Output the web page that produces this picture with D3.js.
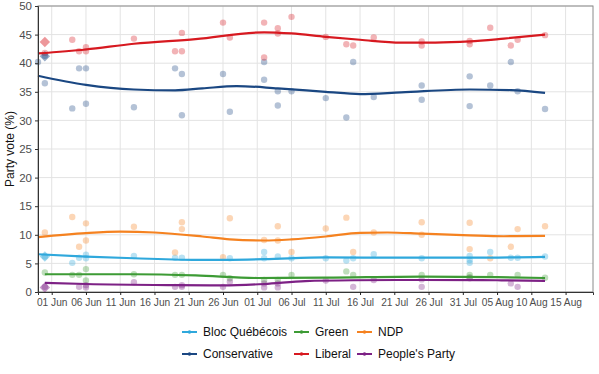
<!DOCTYPE html>
<html>
<head>
<meta charset="utf-8">
<script src="https://cdn.jsdelivr.net/npm/d3@7"></script>
<style>
  body { margin: 0; background: #fff; }
  svg { display: block; font-family: "Liberation Sans", Arial, sans-serif; }
</style>
</head>
<body>
<script>
// party names and colours
var parties = ["Bloc Québécois", "Green", "NDP", "Conservative", "Liberal", "People's Party"];
var colors = ["#2fa8dc", "#3d9b35", "#f58220", "#1a4782", "#d71920", "#7d2185"];

// tick labels on the x axis
var tickDates = ["2021-06-01", "2021-06-06", "2021-06-11", "2021-06-16", "2021-06-21", "2021-06-26",
  "2021-07-01", "2021-07-06", "2021-07-11", "2021-07-16", "2021-07-21", "2021-07-26", "2021-07-31",
  "2021-08-05", "2021-08-10", "2021-08-15"];
var yTicks = [0, 5, 10, 15, 20, 25, 30, 35, 40, 45, 50];

// individual polls [date, vote %]
var blocPolls = [["2021-05-31", 6.2], ["2021-06-04", 5.1], ["2021-06-05", 6.0], ["2021-06-06", 6.5], ["2021-06-06", 5.9],
  ["2021-06-13", 6.3], ["2021-06-19", 6.0], ["2021-06-20", 6.0], ["2021-06-27", 5.9], ["2021-07-02", 7.0],
  ["2021-07-02", 5.9], ["2021-07-04", 6.2], ["2021-07-06", 5.9], ["2021-07-11", 5.9], ["2021-07-14", 5.5],
  ["2021-07-15", 5.9], ["2021-07-18", 6.6], ["2021-07-25", 5.9], ["2021-08-01", 6.3], ["2021-08-01", 5.6],
  ["2021-08-01", 5.1], ["2021-08-04", 7.0], ["2021-08-07", 6.0], ["2021-08-08", 6.0], ["2021-08-12", 6.2]];
var greenPolls = [["2021-05-31", 3.4], ["2021-06-04", 3.0], ["2021-06-05", 3.0], ["2021-06-06", 4.0], ["2021-06-06", 2.0],
  ["2021-06-13", 3.1], ["2021-06-19", 3.0], ["2021-06-20", 3.0], ["2021-06-26", 3.0], ["2021-06-27", 2.4],
  ["2021-07-02", 2.1], ["2021-07-04", 2.1], ["2021-07-06", 3.0], ["2021-07-14", 3.6], ["2021-07-15", 3.0],
  ["2021-07-25", 3.0], ["2021-08-01", 3.0], ["2021-08-01", 2.6], ["2021-08-04", 3.0], ["2021-08-08", 3.0],
  ["2021-08-12", 2.5]];
var ndpPolls = [["2021-05-31", 10.4], ["2021-06-04", 13.1], ["2021-06-05", 7.9], ["2021-06-06", 12.0], ["2021-06-06", 9.0],
  ["2021-06-13", 11.4], ["2021-06-19", 6.9], ["2021-06-20", 12.2], ["2021-06-20", 11.0], ["2021-06-26", 6.1],
  ["2021-06-27", 12.9], ["2021-07-02", 9.1], ["2021-07-04", 11.5], ["2021-07-04", 9.0], ["2021-07-06", 7.0],
  ["2021-07-11", 11.1], ["2021-07-14", 13.0], ["2021-07-15", 7.0], ["2021-07-18", 10.4], ["2021-07-25", 12.2],
  ["2021-07-25", 10.0], ["2021-08-01", 12.1], ["2021-08-01", 7.5], ["2021-08-04", 5.9], ["2021-08-07", 7.9],
  ["2021-08-08", 11.0], ["2021-08-12", 11.5]];
var conservativePolls = [["2021-05-30", 40.2], ["2021-05-31", 41.3], ["2021-05-31", 36.5], ["2021-06-04", 32.1],
  ["2021-06-05", 39.1], ["2021-06-06", 39.1], ["2021-06-06", 32.9], ["2021-06-13", 32.3], ["2021-06-19", 39.1],
  ["2021-06-20", 38.1], ["2021-06-20", 30.9], ["2021-06-26", 38.1], ["2021-06-27", 31.5], ["2021-07-02", 40.2],
  ["2021-07-02", 37.1], ["2021-07-04", 35.1], ["2021-07-04", 32.6], ["2021-07-06", 35.1], ["2021-07-11", 33.9],
  ["2021-07-14", 30.5], ["2021-07-15", 40.2], ["2021-07-18", 34.1], ["2021-07-25", 36.1], ["2021-07-25", 33.6],
  ["2021-08-01", 37.7], ["2021-08-01", 32.5], ["2021-08-04", 36.1], ["2021-08-07", 40.2], ["2021-08-08", 35.1],
  ["2021-08-12", 32.0]];
var liberalPolls = [["2021-05-31", 41.8], ["2021-06-04", 44.1], ["2021-06-05", 42.1], ["2021-06-06", 42.8],
  ["2021-06-06", 42.1], ["2021-06-13", 44.3], ["2021-06-19", 42.1], ["2021-06-20", 45.3], ["2021-06-20", 42.1],
  ["2021-06-26", 47.1], ["2021-06-27", 44.5], ["2021-07-02", 47.1], ["2021-07-02", 41.0], ["2021-07-04", 46.1],
  ["2021-07-04", 45.2], ["2021-07-06", 48.1], ["2021-07-11", 44.6], ["2021-07-14", 43.3], ["2021-07-15", 43.1],
  ["2021-07-18", 44.5], ["2021-07-25", 43.8], ["2021-07-25", 43.1], ["2021-08-01", 43.9], ["2021-08-01", 43.3],
  ["2021-08-04", 46.2], ["2021-08-07", 43.1], ["2021-08-08", 44.1], ["2021-08-12", 44.9]];
var ppcPolls = [["2021-05-31", 0.9], ["2021-06-05", 0.9], ["2021-06-06", 1.2], ["2021-06-06", 0.8], ["2021-06-13", 1.7],
  ["2021-06-19", 0.9], ["2021-06-20", 1.2], ["2021-06-20", 0.9], ["2021-06-26", 0.9], ["2021-06-27", 1.8],
  ["2021-07-02", 1.5], ["2021-07-02", 0.8], ["2021-07-04", 1.5], ["2021-07-04", 0.8], ["2021-07-11", 2.0],
  ["2021-07-15", 0.9], ["2021-07-18", 2.1], ["2021-07-25", 2.2], ["2021-07-25", 0.9], ["2021-08-01", 2.4],
  ["2021-08-07", 1.5], ["2021-08-08", 0.9]];

// first-poll markers drawn as diamonds
var diamondPolls = [["Bloc Québécois", "2021-05-31", 6.2], ["Conservative", "2021-05-31", 41.2],
  ["Liberal", "2021-05-31", 43.7], ["People's Party", "2021-05-31", 0.8]];

// smoothed trend
var blocTrend = [["2021-05-30", 6.6], ["2021-06-06", 6.2], ["2021-06-13", 5.9], ["2021-06-23", 5.6], ["2021-07-02", 5.75],
  ["2021-07-11", 6.05], ["2021-07-22", 6.0], ["2021-08-01", 6.0], ["2021-08-12", 6.15]];
var greenTrend = [["2021-05-31", 3.1], ["2021-06-13", 3.1], ["2021-06-22", 2.9], ["2021-07-01", 2.45], ["2021-07-11", 2.5],
  ["2021-07-25", 2.7], ["2021-08-05", 2.6], ["2021-08-12", 2.45]];
var ndpTrend = [["2021-05-30", 9.6], ["2021-06-06", 10.3], ["2021-06-11", 10.55], ["2021-06-16", 10.4], ["2021-06-23", 9.7],
  ["2021-06-27", 9.2], ["2021-07-02", 9.0], ["2021-07-06", 9.2], ["2021-07-11", 9.7], ["2021-07-16", 10.35],
  ["2021-07-20", 10.4], ["2021-07-25", 10.2], ["2021-08-01", 9.9], ["2021-08-06", 9.75], ["2021-08-12", 9.8]];
var conservativeTrend = [["2021-05-30", 37.8], ["2021-06-06", 36.2], ["2021-06-13", 35.4], ["2021-06-19", 35.25],
  ["2021-06-23", 35.6], ["2021-06-28", 36.0], ["2021-07-04", 35.6], ["2021-07-11", 35.0], ["2021-07-16", 34.6],
  ["2021-07-22", 34.9], ["2021-08-01", 35.4], ["2021-08-07", 35.3], ["2021-08-12", 34.8]];
var liberalTrend = [["2021-05-30", 41.7], ["2021-06-06", 42.4], ["2021-06-13", 43.4], ["2021-06-22", 44.2],
  ["2021-07-02", 45.4], ["2021-07-06", 45.2], ["2021-07-11", 44.6], ["2021-07-16", 44.1], ["2021-07-22", 43.6],
  ["2021-07-27", 43.6], ["2021-08-01", 43.8], ["2021-08-06", 44.3], ["2021-08-12", 45.0]];
var ppcTrend = [["2021-05-31", 1.6], ["2021-06-06", 1.4], ["2021-06-19", 1.2], ["2021-06-26", 1.15], ["2021-07-02", 1.4],
  ["2021-07-08", 1.9], ["2021-07-15", 2.05], ["2021-07-25", 2.1], ["2021-08-05", 2.05], ["2021-08-12", 1.95]];

var polls = [blocPolls, greenPolls, ndpPolls, conservativePolls, liberalPolls, ppcPolls];
var trends = [blocTrend, greenTrend, ndpTrend, conservativeTrend, liberalTrend, ppcTrend];

var W = 599, H = 374;
var margin = {top: 6, right: 6, bottom: 82, left: 38};
var parseDate = d3.timeParse("%Y-%m-%d");

var x = d3.scaleTime()
  .domain([parseDate("2021-05-30"), parseDate("2021-08-19")])
  .range([margin.left, W - margin.right]);
var y = d3.scaleLinear().domain([0, 50]).range([H - margin.bottom, margin.top]);

var color = d3.scaleOrdinal().domain(parties).range(colors);

var svg = d3.select("body").append("svg")
  .attr("width", W)
  .attr("height", H);

// grid
svg.append("g")
  .selectAll("line")
  .data(yTicks)
  .join("line")
  .attr("x1", margin.left).attr("x2", W - margin.right)
  .attr("y1", d => y(d)).attr("y2", d => y(d))
  .attr("stroke", "#e3e3e3").attr("stroke-width", 1);

svg.append("g")
  .selectAll("line")
  .data(tickDates.map(parseDate))
  .join("line")
  .attr("x1", d => x(d)).attr("x2", d => x(d))
  .attr("y1", margin.top).attr("y2", y(0))
  .attr("stroke", "#e3e3e3").attr("stroke-width", 1);

// panel border
svg.append("rect")
  .attr("x", margin.left).attr("y", margin.top)
  .attr("width", W - margin.right - margin.left)
  .attr("height", y(0) - margin.top)
  .attr("fill", "none").attr("stroke", "#8a8a8a").attr("stroke-width", 1);

// points
parties.forEach(function(p, i) {
  svg.append("g")
    .selectAll("circle")
    .data(polls[i])
    .join("circle")
    .attr("cx", d => x(parseDate(d[0])))
    .attr("cy", d => y(d[1]))
    .attr("r", 3.2)
    .attr("fill", color(p))
    .attr("fill-opacity", 0.33);
});

svg.append("g")
  .selectAll("path")
  .data(diamondPolls)
  .join("path")
  .attr("d", d3.symbol().type(d3.symbolDiamond2).size(70))
  .attr("transform", d => "translate(" + x(parseDate(d[1])) + "," + y(d[2]) + ")")
  .attr("fill", d => color(d[0]))
  .attr("fill-opacity", 0.45);

// trend lines
var line = d3.line()
  .x(d => x(parseDate(d[0])))
  .y(d => y(d[1]))
  .curve(d3.curveMonotoneX);

parties.forEach(function(p, i) {
  svg.append("path")
    .datum(trends[i])
    .attr("d", line)
    .attr("fill", "none")
    .attr("stroke", color(p))
    .attr("stroke-width", 2.2);
});

// axes
var xAxis = svg.append("g")
  .attr("transform", "translate(0," + y(0) + ")")
  .call(d3.axisBottom(x)
    .tickValues(tickDates.map(parseDate))
    .tickFormat(d3.timeFormat("%d %b"))
    .tickSize(3)
    .tickPadding(4));
xAxis.select(".domain").attr("stroke", "#333");
xAxis.selectAll(".tick line").attr("stroke", "#222");
xAxis.selectAll("text").attr("fill", "#4d4d4d").style("font-size", "10.2px");

var yAxis = svg.append("g")
  .attr("transform", "translate(" + margin.left + ",0)")
  .call(d3.axisLeft(y).tickValues(yTicks).tickSize(3).tickPadding(3));
yAxis.select(".domain").attr("stroke", "#333");
yAxis.selectAll(".tick line").attr("stroke", "#333");
yAxis.selectAll("text").attr("fill", "#4d4d4d").style("font-size", "11.5px");

// y label
svg.append("text")
  .attr("transform", "rotate(-90)")
  .attr("x", -(margin.top + y(0)) / 2)
  .attr("y", 14)
  .style("text-anchor", "middle")
  .style("font-size", "12px")
  .attr("fill", "#111")
  .text("Party vote (%)");

// legend, 2 rows x 3 cols
var legendCols = [182, 294, 357];
var legendRows = [332, 354];
var legend = svg.append("g")
  .selectAll("g")
  .data(parties)
  .join("g")
  .attr("transform", (d, i) => "translate(" + legendCols[i % 3] + "," + legendRows[Math.floor(i / 3)] + ")");

legend.append("line")
  .attr("x1", 0).attr("x2", 15)
  .attr("stroke", d => color(d))
  .attr("stroke-width", 2);
legend.append("circle")
  .attr("cx", 7.5).attr("r", 1.8)
  .attr("fill", d => color(d));
legend.append("text")
  .attr("x", 21)
  .attr("dy", "0.35em")
  .style("font-size", "12px")
  .attr("fill", "#111")
  .text(d => d);
</script>
</body>
</html>
